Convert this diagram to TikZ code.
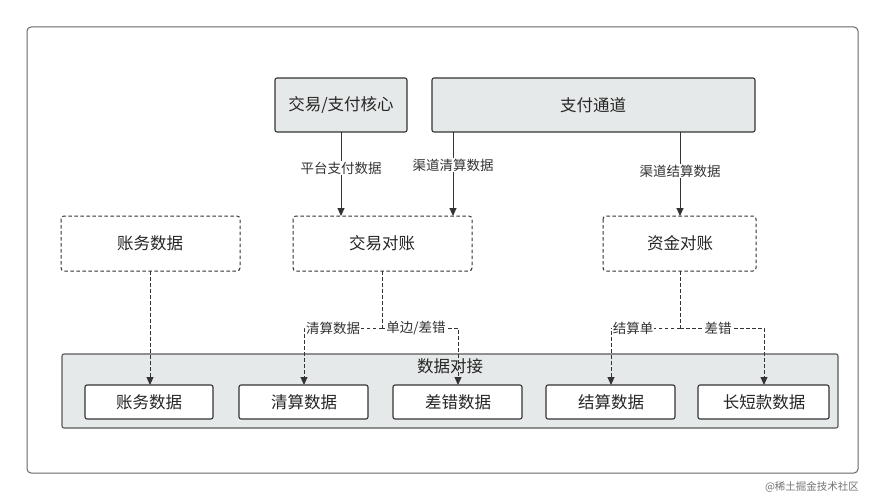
\documentclass[tikz,border=0pt]{standalone}
\usepackage{fontspec}
\setmainfont{Noto Sans CJK SC}
\usetikzlibrary{arrows.meta}
\definecolor{fillg}{HTML}{E6E9E9}
\definecolor{linec}{HTML}{333333}
\begin{document}
\begin{tikzpicture}[x=1pt,y=-1pt,
  solidbox/.style={draw=linec,line width=1.1pt,fill=fillg,rounded corners=2pt},
  dbox/.style={draw=linec,line width=1pt,dash pattern=on 3.5pt off 2.5pt,rounded corners=3pt},
  wbox/.style={draw=linec,line width=1.1pt,fill=white,rounded corners=2pt},
  arr/.style={draw=linec,line width=1pt,-{Triangle[length=8pt,width=7pt]}},
  darr/.style={arr,dash pattern=on 3.5pt off 2.5pt},
  dl/.style={draw=linec,line width=1pt,dash pattern=on 3.5pt off 2.5pt},
  lbl/.style={fill=white,inner sep=1pt,font=\fontsize{13.5}{15}\selectfont,text=linec},
  txt/.style={font=\fontsize{16.5}{19}\selectfont,text=black!85}]
\useasboundingbox (0,0) rectangle (884,500);
\fill[white] (0,0) rectangle (884,500);
\draw[draw=black!60,line width=1pt,rounded corners=4pt] (27,27) rectangle (858,473);
% top boxes
\draw[solidbox] (275,78) rectangle (407,132); \node[txt] (core) at (341,105) {交易/支付核心};
\draw[solidbox] (432,78) rectangle (755,132); \node[txt] (chan) at (593,105) {支付通道};
\coordinate (coreb) at (341,132); \coordinate (chanb1) at (453,132); \coordinate (chanb2) at (680,132);
% middle dashed boxes
\draw[dbox] (61,216) rectangle (240,271); \node[txt] (acc) at (150,243) {账务数据};
\draw[dbox] (293,216) rectangle (472,271); \node[txt] (trc) at (382,243) {交易对账};
\draw[dbox] (603,216) rectangle (756,271); \node[txt] (fdc) at (680,243) {资金对账};
% band
\draw[draw=black!65,line width=1.1pt,fill=fillg,rounded corners=2pt] (62,354) rectangle (838,428);
\node[txt] (band) at (450,366) {数据对接};
\draw[wbox] (85,385) rectangle (213,419); \node[txt] (b1) at (149,402) {账务数据};
\draw[wbox] (239,385) rectangle (368,419); \node[txt] (b2) at (304,402) {清算数据};
\draw[wbox] (393,385) rectangle (522,419); \node[txt] (b3) at (458,402) {差错数据};
\draw[wbox] (546,385) rectangle (675,419); \node[txt] (b4) at (611,402) {结算数据};
\draw[wbox] (698,385) rectangle (829,419); \node[txt] (b5) at (764,402) {长短款数据};
% solid arrows
\draw[arr] (coreb) -- (341,216);
\node[lbl] at (341,168) {平台支付数据};
\draw[arr] (chanb1) -- (453,216);
\node[lbl] at (453,165) {渠道清算数据};
\draw[arr] (chanb2) -- (680,216);
\node[lbl] at (680,171) {渠道结算数据};
% dashed arrows
\draw[darr] (150,271) -- (150,385);
\draw[dl] (382,271) -- (382,328);
\draw[darr] (382,328) -- (304,328) -- (304,385);
\draw[darr] (382,328) -- (458,328) -- (458,385);
\node[lbl] at (333,328) {清算数据};
\node[lbl] at (416,328) {单边/差错};
\draw[dl] (680,271) -- (680,328);
\draw[darr] (680,328) -- (611,328) -- (611,385);
\draw[darr] (680,328) -- (764,328) -- (764,385);
\node[lbl] at (633,328) {结算单};
\node[lbl] at (718,328) {差错};
\node[font=\fontsize{10.5}{12}\selectfont,text=black!55] at (812,487) {@稀土掘金技术社区};
\end{tikzpicture}
\end{document}
